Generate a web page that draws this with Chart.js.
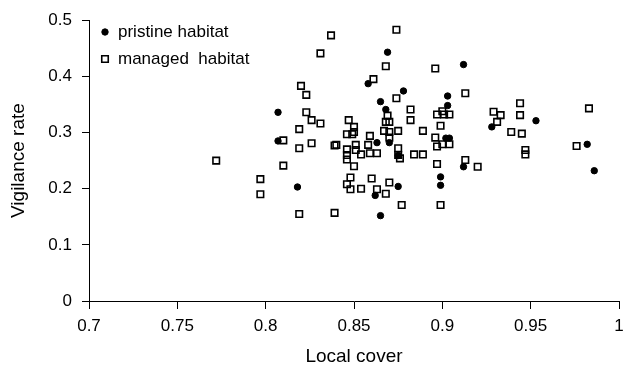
<!DOCTYPE html>
<html lang="en">
<head>
    <meta charset="UTF-8">
    <title>Vigilance rate vs local cover</title>
    <script src="https://cdn.jsdelivr.net/npm/chart.js@4.4.0/dist/chart.umd.min.js"></script>
    <style>
        body {
            margin: 0;
            background-color: #fff;
        }
        #canvas {
            display: block;
        }
    </style>
</head>
<body>
    <canvas id="canvas" width="636" height="366"></canvas>

    <script>
        // Pristine habitat (filled dots)
        const pristineX = [0.807, 0.807, 0.818, 0.869, 0.858, 0.878, 0.865, 0.868, 0.903, 0.903,
                           0.912, 0.863, 0.870, 0.875, 0.902, 0.904, 0.899, 0.899, 0.912, 0.875,
                           0.862, 0.865, 0.953, 0.928, 0.982, 0.986];
        const pristineY = [0.336, 0.285, 0.203, 0.443, 0.387, 0.374, 0.355, 0.341, 0.365, 0.348,
                           0.421, 0.282, 0.282, 0.259, 0.290, 0.290, 0.221, 0.206, 0.239, 0.204,
                           0.188, 0.152, 0.321, 0.310, 0.279, 0.232];

        // Managed habitat (open squares)
        const managedX = [0.837, 0.874, 0.831, 0.868, 0.896, 0.861, 0.874, 0.913, 0.820, 0.823,
                          0.823, 0.826, 0.831, 0.819, 0.810, 0.819, 0.826, 0.839, 0.772, 0.810,
                          0.797, 0.797, 0.819, 0.839, 0.882, 0.882, 0.897, 0.900, 0.901, 0.904,
                          0.899, 0.869, 0.868, 0.870, 0.875, 0.867, 0.870, 0.870, 0.859, 0.889,
                          0.847, 0.850, 0.850, 0.846, 0.849, 0.840, 0.846, 0.846, 0.846, 0.851,
                          0.851, 0.854, 0.858, 0.859, 0.863, 0.875, 0.875, 0.876, 0.896, 0.897,
                          0.900, 0.904, 0.884, 0.889, 0.913, 0.920, 0.897, 0.850, 0.848, 0.846,
                          0.848, 0.854, 0.860, 0.863, 0.868, 0.870, 0.877, 0.899, 0.944, 0.929,
                          0.933, 0.944, 0.931, 0.939, 0.945, 0.947, 0.947, 0.983, 0.976];
        const managedY = [0.473, 0.483, 0.441, 0.418, 0.414, 0.395, 0.361, 0.370, 0.383, 0.367,
                          0.336, 0.322, 0.316, 0.306, 0.286, 0.272, 0.281, 0.277, 0.250, 0.241,
                          0.217, 0.190, 0.155, 0.157, 0.341, 0.322, 0.332, 0.338, 0.332, 0.332,
                          0.312, 0.330, 0.319, 0.319, 0.303, 0.303, 0.301, 0.291, 0.294, 0.303,
                          0.322, 0.310, 0.301, 0.297, 0.297, 0.278, 0.270, 0.260, 0.252, 0.278,
                          0.269, 0.261, 0.278, 0.263, 0.263, 0.272, 0.260, 0.254, 0.291, 0.275,
                          0.279, 0.279, 0.261, 0.261, 0.251, 0.239, 0.244, 0.240, 0.220, 0.208,
                          0.199, 0.200, 0.218, 0.199, 0.191, 0.211, 0.171, 0.171, 0.352, 0.337,
                          0.331, 0.331, 0.319, 0.301, 0.298, 0.269, 0.261, 0.343, 0.276];

        // Axis ticks
        const xTickValues = [0.7, 0.75, 0.8, 0.85, 0.9, 0.95, 1];
        const xTickLabels = ['0.7', '0.75', '0.8', '0.85', '0.9', '0.95', '1'];
        const yTickValues = [0, 0.1, 0.2, 0.3, 0.4, 0.5];
        const yTickLabels = ['0', '0.1', '0.2', '0.3', '0.4', '0.5'];

        const FONT = '"Liberation Sans", Arial, sans-serif';

        function toPoints(xs, ys) {
            return xs.map((x, i) => ({ x: x, y: ys[i] }));
        }

        // legend drawn inside the plot, top left
        const insideLegend = {
            id: 'insideLegend',
            afterDraw(chart) {
                const ctx = chart.ctx;
                const items = [
                    { text: 'pristine habitat', ds: chart.data.datasets[0], y: 32 },
                    { text: 'managed  habitat', ds: chart.data.datasets[1], y: 59 }
                ];
                ctx.save();
                items.forEach(it => {
                    // drawPoint fills and strokes with the current context styles
                    ctx.fillStyle = it.ds.backgroundColor;
                    ctx.strokeStyle = it.ds.borderColor;
                    ctx.lineWidth = it.ds.borderWidth;
                    Chart.helpers.drawPoint(ctx, {
                        pointStyle: it.ds.pointStyle,
                        radius: it.ds.pointRadius,
                        borderWidth: it.ds.borderWidth
                    }, 105, it.y);
                });
                ctx.fillStyle = '#000';
                ctx.font = '17px ' + FONT;
                ctx.textBaseline = 'middle';
                ctx.textAlign = 'left';
                items.forEach(it => ctx.fillText(it.text, 118, it.y));
                ctx.restore();
            }
        };

        const ctx = document.getElementById('canvas').getContext('2d');
        new Chart(ctx, {
            type: 'scatter',
            data: {
                datasets: [
                    {
                        label: 'pristine habitat',
                        data: toPoints(pristineX, pristineY),
                        pointStyle: 'circle',
                        pointRadius: 3.2,
                        backgroundColor: '#000',
                        borderColor: '#000',
                        borderWidth: 1
                    },
                    {
                        label: 'managed habitat',
                        data: toPoints(managedX, managedY),
                        pointStyle: 'rect',
                        pointRadius: 4.6,
                        backgroundColor: 'rgba(0,0,0,0)',
                        borderColor: '#000',
                        borderWidth: 1.6
                    }
                ]
            },
            options: {
                responsive: false,
                animation: false,
                layout: { padding: { top: 20, right: 17, left: 0, bottom: 0 } },
                plugins: {
                    legend: { display: false },
                    tooltip: { enabled: false }
                },
                scales: {
                    x: {
                        type: 'linear',
                        min: 0.7,
                        max: 1,
                        afterBuildTicks: s => { s.ticks = xTickValues.map(v => ({ value: v })); },
                        afterFit: s => { s.height = 65; },
                        ticks: {
                            color: '#000',
                            font: { family: FONT, size: 17 },
                            padding: 7,
                            maxRotation: 0,
                            callback: (v, i) => xTickLabels[i]
                        },
                        grid: { drawOnChartArea: false, drawTicks: true, tickLength: 8, color: '#000' },
                        border: { display: true, color: '#000', width: 1 },
                        title: {
                            display: true,
                            text: 'Local cover',
                            color: '#000',
                            font: { family: FONT, size: 19, lineHeight: 1 },
                            padding: { top: 0, bottom: 0 }
                        }
                    },
                    y: {
                        type: 'linear',
                        min: 0,
                        max: 0.5,
                        afterBuildTicks: s => { s.ticks = yTickValues.map(v => ({ value: v })); },
                        afterFit: s => { s.width = 89; },
                        ticks: {
                            color: '#000',
                            font: { family: FONT, size: 17 },
                            padding: 10,
                            callback: (v, i) => yTickLabels[i]
                        },
                        grid: { drawOnChartArea: false, drawTicks: true, tickLength: 7, color: '#000' },
                        border: { display: true, color: '#000', width: 1 },
                        title: {
                            display: true,
                            text: 'Vigilance rate',
                            color: '#000',
                            font: { family: FONT, size: 19, lineHeight: 1 },
                            padding: { top: 9, bottom: 0 }
                        }
                    }
                }
            },
            plugins: [insideLegend]
        });
    </script>
</body>
</html>
